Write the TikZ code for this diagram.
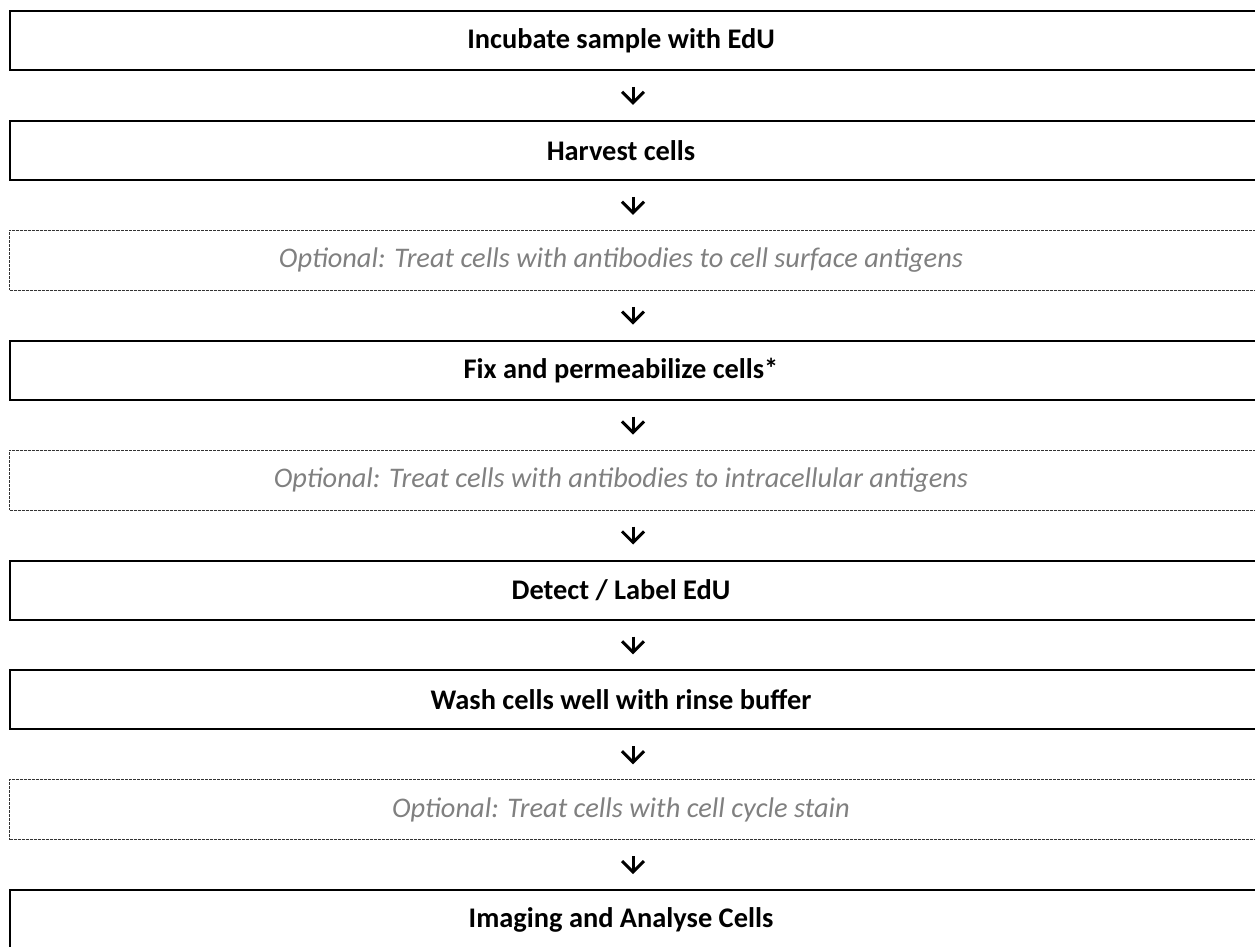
\documentclass[tikz,border=0pt]{standalone}
\usepackage{fontspec}
\setmainfont{Carlito}
\usetikzlibrary{chains,arrows.meta}
\begin{document}
\begin{tikzpicture}[x=1pt,y=-1pt,
    stepbox/.style={shape=rectangle, draw, line width=2pt, minimum width=1300pt,
      minimum height=59pt, execute at begin node=\hspace*{-78pt},
      font=\fontsize{28.4}{34}\selectfont\bfseries},
    optbox/.style={shape=rectangle, draw=black!80, line width=1pt, dash pattern=on 3pt off 1pt,
      minimum width=1301pt, minimum height=60pt, text=black!50,
      execute at begin node=\hspace*{-78pt},
      font=\fontsize{28.4}{34}\selectfont\itshape},
    flow/.style={line width=3pt, -{Straight Barb[length=11pt,width=22pt]}}]
  \useasboundingbox (0,0) rectangle (1255,947);
  \clip (0,0) rectangle (1255,947);
  \begin{scope}[start chain=going below, node distance=48.9pt]
    \node[stepbox, on chain, at={(660,40.5)}] (incubate) {Incubate sample with EdU};
    \node[stepbox, on chain] (harvest) {Harvest cells};
    \node[optbox, on chain] (surface) {Optional: Treat cells with antibodies to cell surface antigens};
    \node[stepbox, on chain] (fix) {Fix and permeabilize cells*};
    \node[optbox, on chain] (intra) {Optional: Treat cells with antibodies to intracellular antigens};
    \node[stepbox, on chain] (detect) {Detect / Label EdU};
    \node[stepbox, on chain] (wash) {Wash cells well with rinse buffer};
    \node[optbox, on chain] (cycle) {Optional: Treat cells with cell cycle stain};
    \node[stepbox, on chain] (imaging) {Imaging and Analyse Cells};
  \end{scope}
  \foreach \a/\b in {incubate/harvest, harvest/surface, surface/fix, fix/intra,
      intra/detect, detect/wash, wash/cycle, cycle/imaging}
    \draw[flow] ([xshift=-27pt,yshift=-16pt]\a.south) -- ([xshift=-27pt,yshift=15pt]\b.north);
\end{tikzpicture}
\end{document}
